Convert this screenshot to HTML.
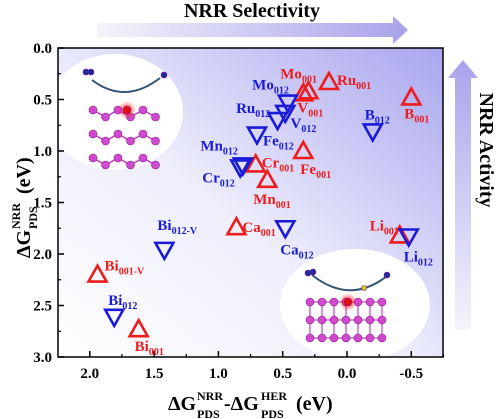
<!DOCTYPE html>
<html><head><meta charset="utf-8"><style>
body{margin:0;background:#fff}
svg{display:block;font-family:"Liberation Serif",serif;font-weight:bold}
</style></head><body>
<svg id="c" width="500" height="419" viewBox="0 0 500 419">
<defs>
<linearGradient id="bg" x1="0" y1="1" x2="1" y2="0">
<stop offset="0" stop-color="#ffffff"/><stop offset="0.45" stop-color="#eeeefc"/><stop offset="1" stop-color="#a9a6ee"/>
</linearGradient>
<linearGradient id="ha" x1="0" x2="1"><stop offset="0" stop-color="#f4f4fb"/><stop offset="1" stop-color="#a9a3ec"/></linearGradient>
<linearGradient id="va" x1="0" y1="1" x2="0" y2="0"><stop offset="0" stop-color="#f4f4fb"/><stop offset="1" stop-color="#a9a3ec"/></linearGradient>
<radialGradient id="glow"><stop offset="0" stop-color="#ff2020"/><stop offset="1" stop-color="#ff2020" stop-opacity="0"/></radialGradient>
</defs>
<text x="252" y="17" font-size="20" text-anchor="middle">NRR Selectivity</text>
<path d="M97 23H393V16L408 30L393 44V37H97Z" fill="url(#ha)"/>
<path d="M455 330V78H448L463 60L478 78H471V330Z" fill="url(#va)"/>
<text transform="translate(480,150) rotate(90)" font-size="20" text-anchor="middle">NRR Activity</text>
<rect x="58" y="48" width="385" height="309" fill="url(#bg)"/>
<ellipse cx="115" cy="112" rx="68" ry="58" fill="#fff"/>
<ellipse cx="355" cy="305" rx="75" ry="56" fill="#fff"/>
<g id="insets"></g>
<g id="axes"></g>
<g id="marks"></g>
<rect x="58" y="48" width="385" height="309" fill="none" stroke="#000" stroke-width="1.5"/>
<g transform="translate(30,200) rotate(-90)">
<text x="-58" y="0" font-size="20">ΔG</text>
<text x="-29" y="-10" font-size="12">NRR</text>
<text x="-29" y="7" font-size="12">PDS</text>
<text x="6" y="0" font-size="20">(eV)</text>
</g>
<g>
<text x="168" y="410" font-size="20">ΔG</text>
<text x="197" y="400" font-size="12">NRR</text>
<text x="197" y="418" font-size="12">PDS</text>
<text x="224" y="410" font-size="20">-ΔG</text>
<text x="261" y="400" font-size="12">HER</text>
<text x="261" y="418" font-size="12">PDS</text>
<text x="296" y="410" font-size="20">(eV)</text>
</g>
</svg>
<script>
const xTicks=[2.0,1.5,1.0,0.5,0.0,-0.5];
const xTickLabels=["2.0","1.5","1.0","0.5","0.0","-0.5"];
const yTicks=[0.0,0.5,1.0,1.5,2.0,2.5,3.0];
const yTickLabels=["0.0","0.5","1.0","1.5","2.0","2.5","3.0"];
const redNames=["Mo","V","Ru","B","Fe","Cr","Mn","Ca","Li","Bi","Bi"];
const redSubs=["001","001","001","001","001","001","001","001","001","001-V","001"];
const redX=[0.34,0.30,0.14,-0.50,0.34,0.71,0.62,0.86,-0.41,1.94,1.62];
const redY=[0.44,0.42,0.33,0.48,1.00,1.13,1.28,1.74,1.82,2.20,2.73];
const redLabelOff=[[-23,-15,"start"],[-11,21,"start"],[8,3,"start"],[-7,21,"start"],[-3,23,"start"],[6,3,"start"],[-14,24,"start"],[6,5,"start"],[-30,-5,"start"],[7,-4,"start"],[-4,22,"start"]];
const blueNames=["Mo","Ru","V","Fe","B","Mn","Cr","Ca","Li","Bi","Bi"];
const blueSubs=["012","012","012","012","012","012","012","012","012","012-V","012"];
const blueX=[0.46,0.48,0.54,0.70,-0.20,0.81,0.83,0.48,-0.48,1.42,1.81];
const blueY=[0.53,0.63,0.70,0.84,0.81,1.14,1.16,1.75,1.83,1.96,2.61];
const blueLabelOff=[[1,-13,"end"],[-15,0,"end"],[13,8,"start"],[6,11,"start"],[-8,-12,"start"],[-5,-15,"end"],[-38,15,"start"],[-5,26,"start"],[-5,25,"start"],[-7,-20,"start"],[-6,-12,"start"]];

const NS="http://www.w3.org/2000/svg";
const X0=347,XS=128.6,Y0=48,YS=103;
function sx(v){return X0-v*XS;}
function sy(v){return Y0+v*YS;}
function mk(t,a,p){const e=document.createElementNS(NS,t);for(const k in a)e.setAttribute(k,a[k]);p.appendChild(e);return e;}
const axes=document.getElementById('axes');
xTicks.forEach((v,i)=>{
  const t=mk('line',{x1:sx(v),x2:sx(v),y1:357,y2:351,stroke:'#000','stroke-width':1.5},axes);
  
  
  const m=mk('line',{x1:sx(v-0.25),x2:sx(v-0.25),y1:357,y2:354,stroke:'#000','stroke-width':1.2},axes);
  
  
  const l=mk('text',{x:sx(v),y:378,'font-size':15,'text-anchor':'middle'},axes);
  l.textContent=xTickLabels[i];
  
  
});
yTicks.forEach((v,i)=>{
  const t=mk('line',{x1:58,x2:64,y1:sy(v),y2:sy(v),stroke:'#000','stroke-width':1.5},axes);
  
  
  if(v<3){const m=mk('line',{x1:58,x2:61,y1:sy(v+0.25),y2:sy(v+0.25),stroke:'#000','stroke-width':1.2},axes);
  
  }
  const l=mk('text',{x:52,y:sy(v)+5,'font-size':15,'text-anchor':'end'},axes);
  l.textContent=yTickLabels[i];
  
  
});
const ins=document.getElementById('insets');
function atom(x,y,r,f){mk('circle',{cx:x,cy:y,r:r,fill:f,stroke:'#8a1a8a','stroke-width':0.6},ins);}
for(let row=0;row<3;row++){let pts=[];for(let k=0;k<6;k++){pts.push([93+k*12.5,110+row*24+(k%2?7:0)]);}
 mk('polyline',{points:pts.map(p=>p.join(',')).join(' '),fill:'none',stroke:'#c040c0','stroke-width':1.5},ins);
 pts.forEach(p=>atom(p[0],p[1],4,'#d04ad0'));}
mk('circle',{cx:127,cy:110,r:9,fill:'url(#glow)'},ins);atom(127,110,4,'#e01010');
mk('path',{d:'M92 80Q125 105 160 78',fill:'none',stroke:'#335577','stroke-width':2},ins);
atom(86,72,3,'#1a2aa0');atom(91,72,3,'#1a2aa0');atom(164,75,3,'#1a2aa0');
for(let row=0;row<3;row++){for(let k=0;k<7;k++){const x=310+k*12,y=302+row*18;
 if(row<2)mk('line',{x1:x,y1:y,x2:x,y2:y+18,stroke:'#c040c0','stroke-width':1.2},ins);
 if(k<6)mk('line',{x1:x,y1:y,x2:x+12,y2:y,stroke:'#c040c0','stroke-width':1.2},ins);}}
for(let row=0;row<3;row++)for(let k=0;k<7;k++)atom(310+k*12,302+row*18,4,'#d04ad0');
mk('circle',{cx:348,cy:302,r:9,fill:'url(#glow)'},ins);atom(348,302,4,'#e01010');
mk('path',{d:'M312 275Q350 305 387 276',fill:'none',stroke:'#335577','stroke-width':2},ins);
atom(308,273,3,'#1a2aa0');atom(313,272,3,'#1a2aa0');atom(387,275,3,'#1a2aa0');atom(364,288,2.5,'#cccc22');
const marks=document.getElementById('marks');
function label(x,y,off,name,sub,col){
  const t=mk('text',{x:x+off[0],y:y+off[1],'font-size':15,fill:col,'text-anchor':off[2]},marks);
  
  
  t.appendChild(document.createTextNode(name));
  const s=mk('tspan',{'font-size':10,dy:4},t);s.textContent=sub;
}
redX.forEach((v,i)=>{
  const x=sx(v),y=sy(redY[i]);
  const p=mk('polygon',{points:`${x},${y-9} ${x-9},${y+7} ${x+9},${y+7}`,fill:'none',stroke:'#ee1c1c','stroke-width':2.6},marks);
  
  
  label(x,y,redLabelOff[i],redNames[i],redSubs[i],'#ee1c1c');
});
blueX.forEach((v,i)=>{
  const x=sx(v),y=sy(blueY[i]);
  const p=mk('polygon',{points:`${x},${y+9} ${x-9},${y-7} ${x+9},${y-7}`,fill:'none',stroke:'#1a1ad8','stroke-width':2.6},marks);
  
  
  label(x,y,blueLabelOff[i],blueNames[i],blueSubs[i],'#1a1ad8');
});
</script>
</body></html>
